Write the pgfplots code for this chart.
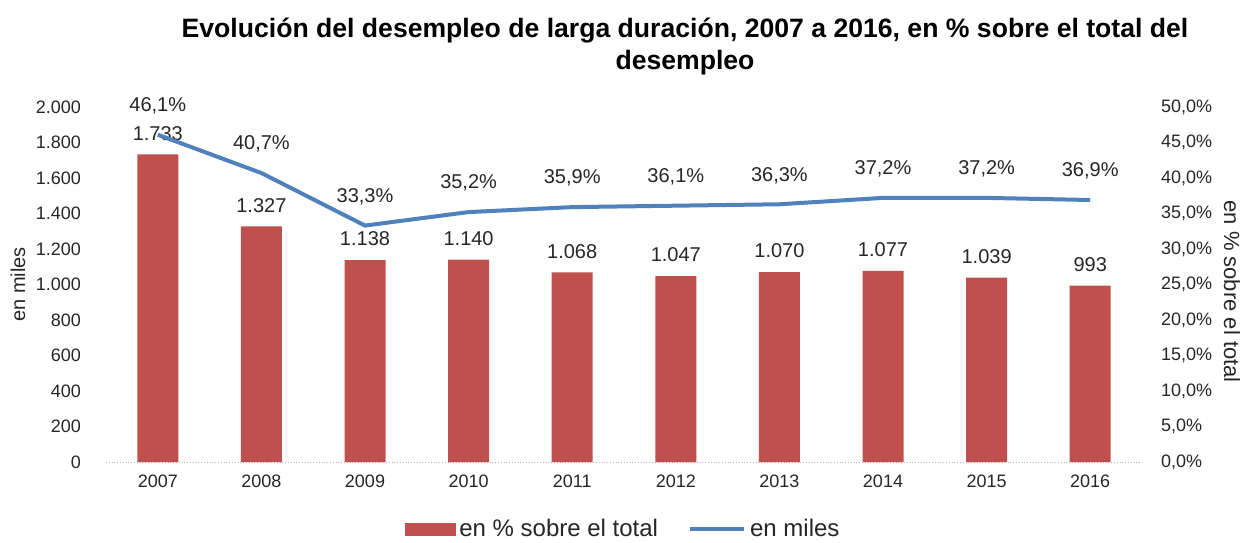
\documentclass[border=0pt]{standalone}
\usepackage{pgfplots}
\pgfplotsset{compat=1.18}
\usepackage{fontspec}
\setmainfont{Liberation Sans}
\definecolor{barred}{HTML}{C0504D}
\definecolor{lineblue}{HTML}{4F81BD}
\definecolor{txt}{HTML}{262626}
\pgfplotsset{/pgf/number format/assume math mode=true}
\newcommand{\nfont}{\fontsize{9}{11}\selectfont}
\newcommand{\lfont}{\fontsize{10}{12}\selectfont}

\begin{document}
\begin{tikzpicture}
\useasboundingbox (-53pt,-40pt) rectangle (568.5pt,231pt);
% left axis: bars
\begin{axis}[
    at={(0,0)}, anchor=south west,
    scale only axis, width=518pt, height=177.5pt,
    xmin=-0.5, xmax=9.5, ymin=0, ymax=2000,
    xtick={0,1,2,3,4,5,6,7,8,9},
    xticklabels={2007,2008,2009,2010,2011,2012,2013,2014,2015,2016},
    ytick={0,200,...,2000},
    axis x line*=bottom, axis y line*=left,
    x axis line style={gray!60, densely dotted, -},
    y axis line style={draw=none},
    major tick length=0pt,
    tick label style={font=\nfont, text=txt},
    yticklabel style={xshift=-9pt, /pgf/number format/1000 sep={.}},
    xticklabel style={yshift=-3pt},
    ylabel={en miles},
    ylabel style={at={(axis description cs:-0.085,0.5)}, anchor=center, font=\lfont, text=txt},
]
\addplot[ybar, bar width=20.5pt, fill=barred, draw=none,
    nodes near coords,
    every node near coord/.append style={font=\lfont, text=txt, yshift=3.5pt,
        /pgf/number format/1000 sep={.}}]
coordinates {
    (0,1733) (1,1327) (2,1138) (3,1140) (4,1068)
    (5,1047) (6,1070) (7,1077) (8,1039) (9,993)
};
\end{axis}
% right axis: line
\begin{axis}[
    at={(0,0)}, anchor=south west,
    scale only axis, width=518pt, height=177.5pt,
    xmin=-0.5, xmax=9.5, ymin=0, ymax=50,
    axis x line=none, axis y line*=right,
    y axis line style={draw=none},
    major tick length=0pt,
    ytick={0,5,...,50},
    yticklabel={\pgfmathprintnumber[fixed,fixed zerofill,precision=1,use comma]{\tick}\%},
    yticklabel style={font=\nfont, text=txt, xshift=6pt},
    ylabel={en \% sobre el total},
    ylabel style={at={(axis description cs:1.0869,0.48)}, anchor=center, rotate=180,
        font=\fontsize{11}{13}\selectfont, text=txt},
    legend columns=2,
    legend style={draw=none, at={(0.5,-0.19)}, anchor=center,
        font=\fontsize{12}{14}\selectfont, text=txt,
        /tikz/every even column/.append style={column sep=13pt}},
]
\addlegendimage{legend image code/.code={\fill[barred] (0pt,-3pt) rectangle (25pt,3pt);}}
\addlegendentry{en \% sobre el total}
\addplot[lineblue, line width=2pt, mark=none,
    legend image code/.code={\draw[lineblue, line width=2pt] (0pt,0pt) -- (27pt,0pt);},
    nodes near coords={\pgfmathprintnumber[fixed,fixed zerofill,precision=1,use comma]{\pgfplotspointmeta}\%},
    every node near coord/.append style={font=\lfont, text=txt, yshift=6pt}]
coordinates {
    (0,46.1) (1,40.7) (2,33.3) (3,35.2) (4,35.9)
    (5,36.1) (6,36.3) (7,37.2) (8,37.2) (9,36.9)
};
\addlegendentry{en miles}
\end{axis}
\node[font=\bfseries\fontsize{13.3}{16}\selectfont, align=center, text=black]
    at (289.5pt,207.5pt) {Evolución del desempleo de larga duración, 2007 a 2016, en \% sobre el total del\\desempleo};
\end{tikzpicture}
\end{document}
